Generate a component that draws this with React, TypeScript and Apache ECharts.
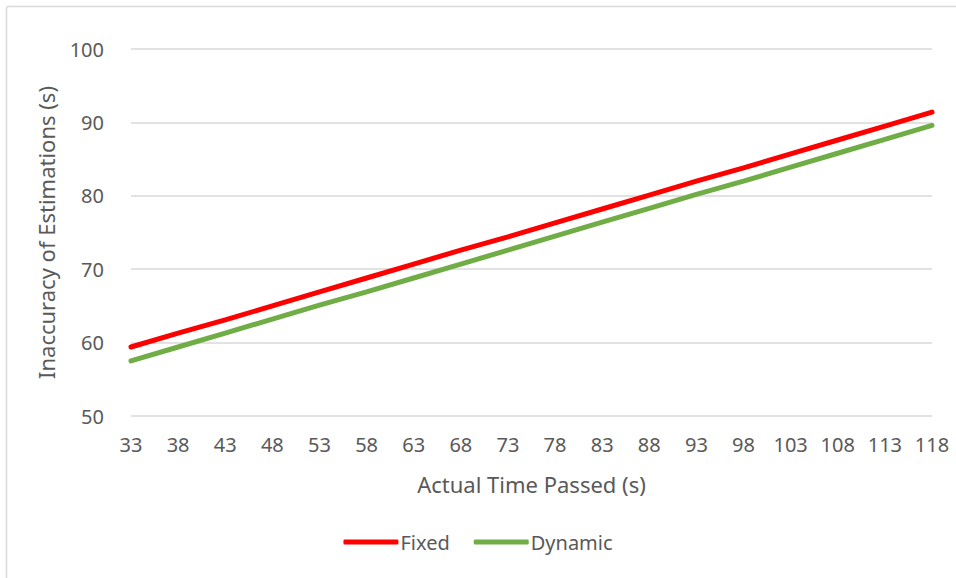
import React, { useEffect, useRef } from "react";
import * as echarts from "echarts";

// Elapsed time categories (s)
const times: string[] = [
  "33", "38", "43", "48", "53", "58", "63", "68", "73",
  "78", "83", "88", "93", "98", "103", "108", "113", "118",
];

// Estimation inaccuracy for each strategy (s)
const fixedValues: number[] = [
  59.4, 61.3, 63.1, 65.0, 66.9, 68.8, 70.7, 72.6, 74.4,
  76.3, 78.2, 80.1, 82.0, 83.8, 85.7, 87.6, 89.5, 91.4,
];
const dynamicValues: number[] = [
  57.5, 59.4, 61.3, 63.2, 65.1, 66.9, 68.8, 70.7, 72.6,
  74.5, 76.4, 78.3, 80.2, 82.0, 83.9, 85.8, 87.7, 89.6,
];

const FONT = "'Noto Sans', 'Open Sans', sans-serif";
const TEXT = "#595959";

export default function App() {
  const ref = useRef<HTMLDivElement>(null);

  useEffect(() => {
    if (!ref.current) return;
    const chart = echarts.init(ref.current, null, { renderer: "svg" });
    chart.setOption({
      animation: false,
      backgroundColor: "#ffffff",
      textStyle: { fontFamily: FONT, color: TEXT },
      graphic: [
        {
          type: "rect",
          shape: { x: 6.5, y: 6.5, width: 1200, height: 1200, r: 2 },
          style: { fill: "none", stroke: "#d9d9d9", lineWidth: 1.5 },
          silent: true,
          z: 0,
        },
      ],
      grid: { left: 131, right: 24, top: 49, bottom: 162 },
      legend: {
        bottom: 21,
        left: "center",
        itemWidth: 55,
        itemHeight: 5,
        itemGap: 24,
        icon: "roundRect",
        textStyle: { fontFamily: FONT, fontSize: 20, color: TEXT, padding: [0, 0, 0, -3] },
        data: ["Fixed", "Dynamic"],
      },
      xAxis: {
        type: "category",
        data: times,
        boundaryGap: false,
        name: "Actual Time Passed (s)",
        nameLocation: "middle",
        nameGap: 57,
        nameTextStyle: { fontFamily: FONT, fontSize: 22, color: TEXT },
        axisLine: { show: false },
        axisTick: { show: false },
        axisLabel: { fontFamily: FONT, fontSize: 20, color: TEXT, margin: 18, interval: 0 },
      },
      yAxis: {
        type: "value",
        min: 50,
        max: 100,
        interval: 10,
        name: "Inaccuracy of Estimations (s)",
        nameLocation: "middle",
        nameGap: 74,
        nameTextStyle: { fontFamily: FONT, fontSize: 22, color: TEXT },
        axisLine: { show: false },
        axisTick: { show: false },
        axisLabel: { fontFamily: FONT, fontSize: 20, color: TEXT, margin: 27 },
        splitLine: { lineStyle: { color: "#d9d9d9", width: 1.5 } },
      },
      series: [
        {
          name: "Fixed",
          type: "line",
          data: fixedValues,
          showSymbol: false,
          symbol: "none",
          color: "#ff0000",
          lineStyle: { width: 5, color: "#ff0000", cap: "round" },
        },
        {
          name: "Dynamic",
          type: "line",
          data: dynamicValues,
          showSymbol: false,
          symbol: "none",
          color: "#70ad47",
          lineStyle: { width: 5, color: "#70ad47", cap: "round" },
        },
      ],
    });
    return () => chart.dispose();
  }, []);

  return (
    <div
      ref={ref}
      style={{ position: "fixed", left: 0, top: 0, width: 956, height: 578 }}
    />
  );
}
